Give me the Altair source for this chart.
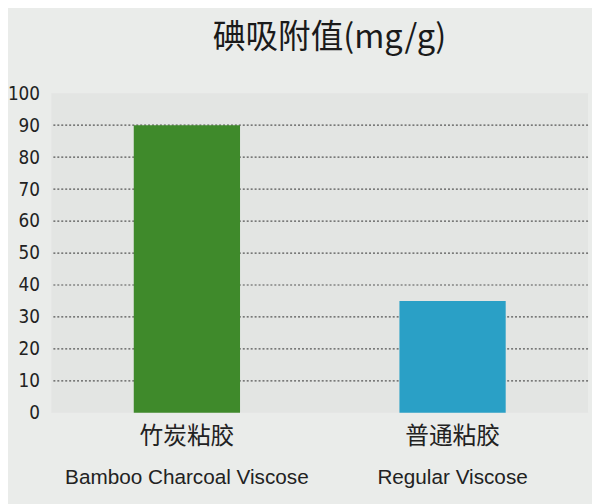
import altair as alt
import pandas as pd

categories_cn = ["竹炭粘胶", "普通粘胶"]
categories_en = ["Bamboo Charcoal Viscose", "Regular Viscose"]
values = [90, 35]
bar_colors = ["#3f8a2b", "#2aa0c6"]
grid_values = [10, 20, 30, 40, 50, 60, 70, 80, 90]
y_ticks = [0, 10, 20, 30, 40, 50, 60, 70, 80, 90, 100]

df = pd.DataFrame({"cn": categories_cn, "en": categories_en, "value": values, "color": bar_colors})
grid_df = pd.DataFrame({"g": grid_values})

xscale = alt.Scale(domain=categories_cn, paddingInner=0.6, paddingOuter=0.31)
yscale = alt.Scale(domain=[0, 100], nice=False)

yaxis = alt.Axis(title=None, values=y_ticks, domain=False, ticks=False, grid=False,
                 labelOverlap=False, labelFontSize=19,
                 labelFont="DejaVu Sans Condensed, Liberation Sans",
                 labelColor="#222222", labelPadding=12)

grid = alt.Chart(grid_df).mark_rule(color="#555555", strokeDash=[2, 2], strokeWidth=1.2).encode(
    y=alt.Y("g:Q", scale=yscale, axis=yaxis)
)

bars = alt.Chart(df).mark_bar().encode(
    x=alt.X("cn:N", scale=xscale, sort=categories_cn,
            axis=alt.Axis(title=None, domain=False, ticks=False, labelAngle=0,
                          labelFontSize=24, labelFont="Noto Sans CJK SC",
                          labelColor="#222222", labelPadding=12)),
    y=alt.Y("value:Q", scale=yscale, axis=yaxis),
    color=alt.Color("color:N", scale=None),
)

en_labels = alt.Chart(df).mark_text(fontSize=21, font="Liberation Sans",
                                     color="#222222", baseline="middle").encode(
    x=alt.X("cn:N", scale=xscale, sort=categories_cn),
    text="en:N",
    y=alt.value(390),
)

chart = alt.layer(grid, bars, en_labels).properties(
    width=544,
    height=324,
    padding={"left": 44, "top": 83, "right": 4, "bottom": 89},
    autosize=alt.AutoSizeParams(type="none"),
    background="#eaecea",
    title=alt.TitleParams("碘吸附值(mg/g)", fontSize=33, font="Noto Sans CJK SC",
                          fontWeight="normal", color="#1a1a1a", offset=30, dx=10),
).configure_view(fill="#e3e5e3", stroke=None)

chart.save("out.html", embed_options={"renderer": "svg", "actions": False})
